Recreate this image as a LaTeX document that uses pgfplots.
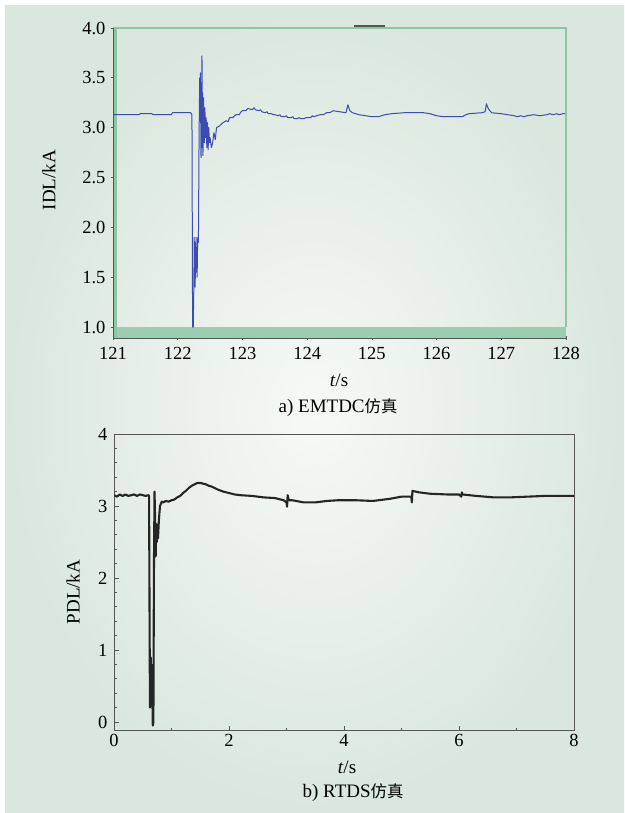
\documentclass[border=0pt]{standalone}
\usepackage{fontspec}
\setmainfont{Liberation Serif}
\newfontfamily\cjk{Noto Sans CJK SC}[Scale=0.86]
\usepackage{pgfplots}
\pgfplotsset{compat=1.18}
\definecolor{bgin}{HTML}{F7F9F7}
\definecolor{bgout}{HTML}{D9E7DE}
\definecolor{framegreen}{HTML}{8DC6A5}
\definecolor{bandgreen}{HTML}{9CCDB1}
\definecolor{axisgray}{HTML}{555555}
\definecolor{curveblue}{HTML}{3C4BB2}
\definecolor{curveblack}{HTML}{252525}
\newcommand{\lblfont}{\fontsize{19}{22}\selectfont}
\begin{document}
\begin{tikzpicture}
\fill[white] (0pt,0pt) rectangle (624pt,-813pt);
\shade[inner color=bgin, outer color=bgout] (5pt,-6pt) rectangle (624pt,-813pt);
\pgfplotsset{every axis/.append style={
  /pgf/number format/assume math mode=true,
  ticklabel style={font=\fontsize{18.5}{21}\selectfont},
}}
% ---------------- panel a ----------------
\begin{axis}[at={(113pt,-338pt)}, anchor=south west, scale only axis,
  width=453pt, height=310pt,
  xmin=121, xmax=128, ymin=0.89, ymax=4.0,
  axis line style={draw=none},
  clip mode=individual,
  xtick={121,...,128}, ytick={1,1.5,...,4},
  xtick pos=bottom, ytick pos=left,
  tick align=center, major tick length=4pt,
  tick style={axisgray, line width=0.7pt},
  yticklabel style={/pgf/number format/fixed, /pgf/number format/fixed zerofill, /pgf/number format/precision=1, xshift=-2pt},
  xticklabel style={yshift=-4pt},
]
\fill[bandgreen] (rel axis cs:0,0) rectangle (axis cs:128,1.0);
\draw[framegreen, line width=3pt] ([xshift=2.5pt]rel axis cs:0,0) -- ([xshift=2.5pt]rel axis cs:0,1);
\addplot[curveblue, line width=1pt, line join=round] coordinates {
(121,3.13) (121.4,3.13) (121.42,3.14) (121.6,3.14) (121.62,3.13) (121.9,3.13) (121.92,3.15) (122.2,3.15) (122.22,3.13)
(122.23,1.0) (122.24,1.0) (122.25,1.45) (122.255,1.9) (122.26,1.5) (122.265,1.75) (122.27,1.4) (122.275,1.85)
(122.28,1.6) (122.285,1.9) (122.29,1.55) (122.295,1.8) (122.30,1.5) (122.305,1.75) (122.31,1.9) (122.32,1.85)
(122.33,2.9) (122.34,3.5) (122.345,3.2) (122.35,3.55) (122.36,2.7) (122.365,3.45) (122.37,3.0) (122.375,3.72)
(122.38,2.8) (122.385,3.35) (122.39,2.72) (122.40,3.3) (122.41,2.85) (122.42,3.2) (122.43,2.9) (122.44,3.1)
(122.45,2.8) (122.46,3.05) (122.47,2.78) (122.48,3.0) (122.49,2.85) (122.50,2.9) (122.52,2.8) (122.54,2.85)
(122.56,2.95) (122.58,2.88) (122.60,3.0) (122.65,3.02) (122.7,3.05) (122.75,3.07) (122.78,3.06) (122.8,3.1)
(122.85,3.1) (122.88,3.12) (122.9,3.13) (122.95,3.13) (122.98,3.16) (123.0,3.17) (123.05,3.17) (123.08,3.19)
(123.1,3.19) (123.15,3.18) (123.18,3.20) (123.2,3.18) (123.25,3.17) (123.28,3.18) (123.3,3.16) (123.35,3.15)
(123.38,3.16) (123.4,3.14) (123.45,3.14) (123.48,3.13) (123.5,3.13) (123.55,3.12) (123.58,3.13) (123.6,3.11)
(123.65,3.11) (123.68,3.12) (123.7,3.10) (123.75,3.10) (123.78,3.11) (123.8,3.09) (123.85,3.09) (123.88,3.10)
(123.9,3.09) (123.95,3.09) (123.98,3.10) (124.0,3.10) (124.05,3.10) (124.08,3.12) (124.1,3.11) (124.15,3.12)
(124.2,3.13) (124.25,3.13) (124.3,3.15) (124.35,3.15) (124.4,3.17) (124.5,3.16) (124.6,3.15) (124.63,3.23)
(124.66,3.17) (124.7,3.15) (124.75,3.14) (124.8,3.13) (124.9,3.12) (125.0,3.11) (125.1,3.11) (125.2,3.13)
(125.3,3.14) (125.5,3.15) (125.8,3.15) (125.9,3.14) (126.0,3.12) (126.1,3.11) (126.4,3.11) (126.45,3.13)
(126.5,3.14) (126.7,3.15) (126.75,3.16) (126.77,3.24) (126.8,3.19) (126.85,3.15) (127.0,3.14) (127.1,3.13)
(127.2,3.12) (127.25,3.11) (127.3,3.12) (127.35,3.11) (127.4,3.12) (127.5,3.13) (127.6,3.12) (127.7,3.13)
(127.75,3.14) (127.8,3.13) (127.85,3.14) (127.9,3.13) (127.95,3.14) (128,3.14)
};
\draw[framegreen, line width=2.5pt] (rel axis cs:0,1) -- (rel axis cs:1,1) -- (axis cs:128,1.0);
\draw[axisgray, line width=0.8pt] (rel axis cs:0,0) -- (rel axis cs:0,1);
\draw[axisgray, line width=0.8pt] (rel axis cs:0,0) -- (rel axis cs:1,0);
\draw[axisgray, line width=1.6pt] ([yshift=2pt]axis cs:124.72,4) -- ([yshift=2pt]axis cs:125.2,4);
\end{axis}
\node[rotate=90, font=\lblfont] at (49pt,-180pt) {IDL/kA};
\node[font=\lblfont] at (339pt,-380pt) {\textit{t}/s};
\node[font=\lblfont] at (338pt,-408pt) {a) EMTDC{\cjk 仿真}};
% ---------------- panel b ----------------
\begin{axis}[at={(114pt,-730.6pt)}, anchor=south west, scale only axis,
  width=460pt, height=296.6pt,
  xmin=0, xmax=8, ymin=-0.12, ymax=4,
  axis line style={axisgray, line width=0.7pt},
  xtick={0,2,...,8}, minor xtick={1,3,5,7},
  ytick={0,1,...,4}, minor y tick num=4,
  xtick pos=bottom, ytick pos=left,
  tick align=inside, major tick length=5pt, minor tick length=3pt,
  tick style={axisgray, line width=0.6pt},
  yticklabel style={xshift=-3pt},
]
\addplot[curveblack, line width=2.1pt, line join=round] coordinates {
(0,3.15) (0.05,3.13) (0.1,3.16) (0.15,3.14) (0.2,3.16) (0.25,3.14) (0.3,3.15) (0.35,3.16) (0.4,3.14)
(0.45,3.16) (0.5,3.15) (0.55,3.14) (0.6,3.15) (0.61,3.14)
(0.625,0.20) (0.63,0.5) (0.638,0.9) (0.645,0.55) (0.65,0.8) (0.655,0.45) (0.66,0.7) (0.668,0.3)
(0.675,-0.05) (0.685,0.0) (0.695,2.2) (0.705,3.2) (0.715,2.8) (0.725,2.3) (0.735,2.75) (0.745,2.5)
(0.755,2.7) (0.765,2.55) (0.78,2.8) (0.80,3.0) (0.83,3.06) (0.86,3.05) (0.9,3.07) (0.95,3.06) (1.0,3.08)
(1.05,3.09) (1.1,3.12) (1.15,3.14) (1.2,3.18) (1.25,3.21) (1.3,3.25) (1.35,3.28) (1.4,3.3) (1.45,3.32)
(1.5,3.32) (1.55,3.31) (1.6,3.3) (1.65,3.28) (1.7,3.27) (1.75,3.25) (1.8,3.23) (1.9,3.2)
(2.0,3.18) (2.1,3.16) (2.2,3.15) (2.4,3.14) (2.6,3.12) (2.8,3.11) (2.95,3.08) (3.0,3.05) (3.01,2.99) (3.02,3.15)
(3.04,3.08) (3.1,3.08) (3.3,3.05) (3.5,3.05) (3.7,3.07) (3.9,3.08) (4.2,3.08) (4.5,3.07) (4.8,3.10)
(5.0,3.13) (5.17,3.13) (5.18,3.05) (5.19,3.21) (5.3,3.19) (5.5,3.17) (5.8,3.16) (6.0,3.16) (6.04,3.13)
(6.05,3.19) (6.06,3.16) (6.3,3.14) (6.6,3.12) (6.9,3.12) (7.2,3.13) (7.5,3.14) (8.0,3.14)
};
\end{axis}
\node[rotate=90, font=\lblfont] at (73pt,-592pt) {PDL/kA};
\node[font=\lblfont] at (347pt,-767pt) {\textit{t}/s};
\node[font=\lblfont] at (353pt,-793pt) {b) RTDS{\cjk 仿真}};
\end{tikzpicture}
\end{document}
